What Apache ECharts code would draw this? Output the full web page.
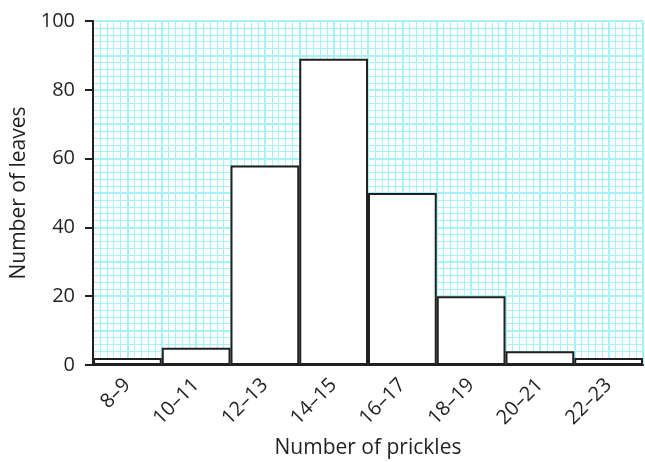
<!DOCTYPE html>
<html>
<head>
<meta charset="utf-8">
<script src="https://cdn.jsdelivr.net/npm/echarts@6/dist/echarts.min.js"></script>
<style>html,body{margin:0;padding:0;background:#fff}#c{width:645px;height:462px}</style>
</head>
<body>
<div id="c"></div>
<script>
const categories = ['8–9','10–11','12–13','14–15','16–17','18–19','20–21','22–23'];
const leaves = [2, 5, 58, 89, 50, 20, 4, 2];
const yTicks = [0, 20, 40, 60, 80, 100];

const ink = '#231f20';
const gridCol = '#a4f3f9';
const font = '"Open Sans", sans-serif';

const chart = echarts.init(document.getElementById('c'), null, {renderer:'canvas'});
chart.setOption({
  animation: false,
  grid: {left: 93, right: 2, top: 21, bottom: 97, containLabel: false, outerBoundsMode: 'none'},
  xAxis: [
    {
      type: 'category', data: categories, position: 'bottom',
      axisLine: {show: true, lineStyle: {color: ink, width: 2}},
      axisTick: {show: false},
      axisLabel: {rotate: 45, color: ink, fontSize: 20, fontFamily: font, margin: 17},
      splitLine: {show: false},
      name: 'Number of prickles', nameLocation: 'middle', nameGap: 73,
      nameTextStyle: {color: ink, fontSize: 21, fontFamily: font},
      z: 5
    },
    {
      type: 'value', min: 0, max: categories.length, interval: 0.5, position: 'bottom',
      axisLine: {show: false}, axisTick: {show: false}, axisLabel: {show: false},
      splitLine: {show: true, lineStyle: {color: gridCol, width: 2}},
      minorTick: {show: false, splitNumber: 5},
      minorSplitLine: {show: true, lineStyle: {color: gridCol, width: 1}}
    }
  ],
  yAxis: [
    {
      type: 'value', min: 0, max: 100, interval: 10,
      axisLine: {show: false}, axisTick: {show: false}, axisLabel: {show: false},
      splitLine: {show: true, lineStyle: {color: gridCol, width: 2}},
      minorTick: {show: false, splitNumber: 5},
      minorSplitLine: {show: true, lineStyle: {color: gridCol, width: 1}}
    },
    {
      type: 'value', min: yTicks[0], max: yTicks[yTicks.length-1], interval: 20, position: 'left',
      axisLine: {show: true, lineStyle: {color: ink, width: 2}},
      axisTick: {show: true, length: 8, inside: false, lineStyle: {color: ink, width: 2}},
      axisLabel: {color: ink, fontSize: 20, fontFamily: font, margin: 18},
      splitLine: {show: false},
      name: 'Number of leaves', nameLocation: 'middle', nameGap: 56,
      nameTextStyle: {color: ink, fontSize: 21, fontFamily: font},
      z: 5
    }
  ],
  series: [{
    type: 'bar', data: leaves, xAxisIndex: 0, yAxisIndex: 1,
    barWidth: '100%', barCategoryGap: 0,
    itemStyle: {color: '#ffffff', borderColor: ink, borderWidth: 2},
    z: 3
  }]
});
</script>
</body>
</html>
